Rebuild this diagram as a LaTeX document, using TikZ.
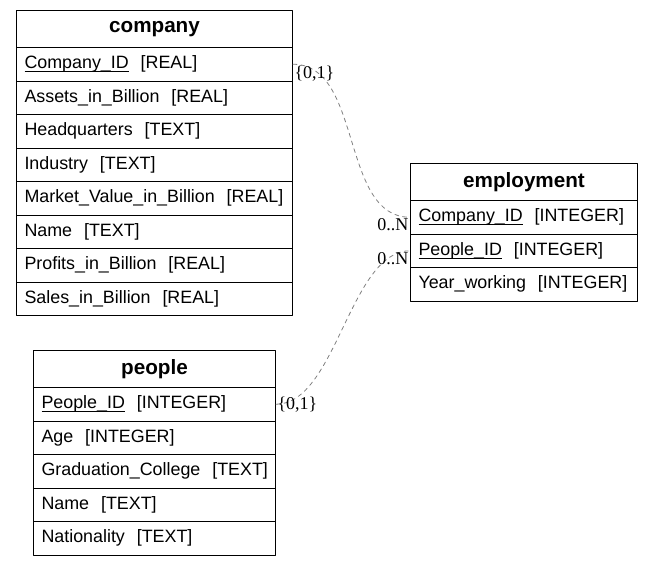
\documentclass[tikz,border=0pt]{standalone}
\usepackage{fontspec}
\setmainfont{Liberation Sans}
\newfontfamily\cardfont{Liberation Serif}
\newcommand\keyname[1]{\leavevmode\setbox0\hbox{#1}\rlap{\rule[-2.3pt]{\wd0}{0.7pt}}\box0}
\begin{document}
\begin{tikzpicture}[x=0.75pt,y=-0.75pt,line join=round,line cap=round]
	\tikzset{
		tabletitle/.style={draw,line width=0.75pt,anchor=north west,inner sep=0pt,minimum height=27.75pt,font=\fontsize{15.5}{17}\selectfont\bfseries},
		field/.style={draw,line width=0.75pt,anchor=north west,inner xsep=6pt,inner ysep=0pt,minimum height=25.125pt,align=left,font=\fontsize{13.4}{15}\selectfont},
		relation/.style={draw=gray,dashed,line width=0.6pt},
		card/.style={font=\cardfont\fontsize{13.5}{15}\selectfont,inner sep=1pt}
	}
	\useasboundingbox (0,0) rectangle (653,565);
	% company
	\node[tabletitle,minimum width=207pt] (company) at (16,10) {company};
	\foreach \name [count=\i] in {{\keyname{Company\_ID}\ \ [REAL]},{Assets\_in\_Billion\ \ [REAL]},{Headquarters\ \ [TEXT]},{Industry\ \ [TEXT]},{Market\_Value\_in\_Billion\ \ [REAL]},{Name\ \ [TEXT]},{Profits\_in\_Billion\ \ [REAL]},{Sales\_in\_Billion\ \ [REAL]}}
	\node[field,text width=195pt] (company-\i) at (16,{47+33.5*(\i-1)}) {\mbox{\name}};
	% employment
	\node[tabletitle,minimum width=170.25pt] (employment) at (410,163) {employment};
	\foreach \name [count=\i] in {{\keyname{Company\_ID}\ \ [INTEGER]},{\keyname{People\_ID}\ \ [INTEGER]},{Year\_working\ \ [INTEGER]}}
	\node[field,text width=158.25pt] (employment-\i) at (410,{200+33.5*(\i-1)}) {\mbox{\name}};
	% people
	\node[tabletitle,minimum width=181.5pt] (people) at (33,350) {people};
	\foreach \name [count=\i] in {{\keyname{People\_ID}\ \ [INTEGER]},{Age\ \ [INTEGER]},{Graduation\_College\ \ [TEXT]},{Name\ \ [TEXT]},{Nationality\ \ [TEXT]}}
	\node[field,text width=169.5pt] (people-\i) at (33,{387+33.5*(\i-1)}) {\mbox{\name}};
	% relations
	\draw[relation] (company-1.east) .. controls +(70,0) and +(-70,0) .. (employment-1.west);
	\draw[relation] (people-1.east) .. controls +(60,0) and +(-60,0) .. (employment-2.west);
	\node[card,anchor=north west] (c1) at (company-1.east) {\{0,1\}};
	\node[card,anchor=north east] (n1) at (employment-1.west) {0..N};
	\node[card,anchor=north east] (n2) at (employment-2.west) {0..N};
	\node[card,anchor=west] (c2) at (people-1.east) {\{0,1\}};
\end{tikzpicture}
\end{document}
